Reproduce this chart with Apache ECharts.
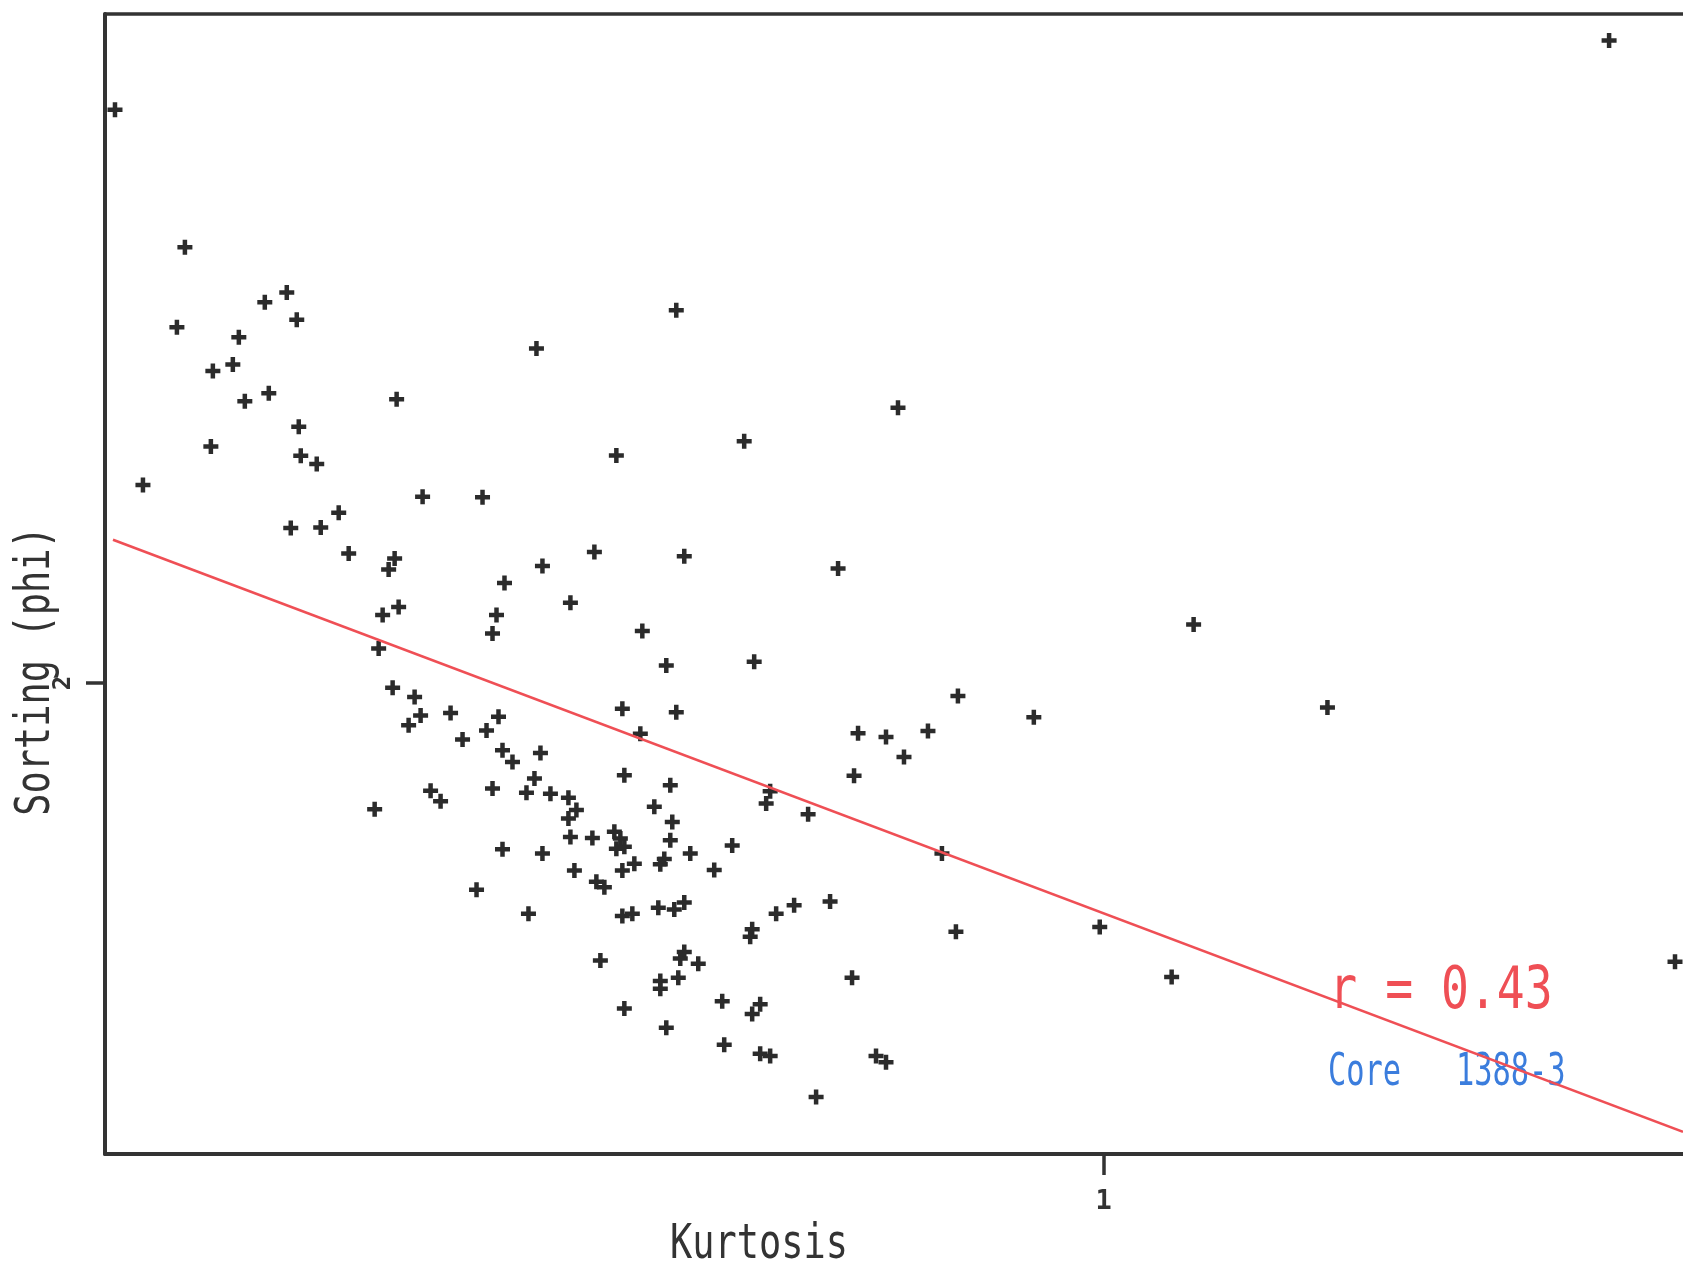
<!DOCTYPE html>
<html lang="en">

<head>
    <meta charset="UTF-8">
    <meta name="viewport" content="width=device-width, initial-scale=1.0">
    <script src="https://cdn.jsdelivr.net/npm/echarts@6.0.0/dist/echarts.min.js"></script>
    <title>Sorting vs Kurtosis</title>
    <style>
        body { margin: 0; background: #fff; }
    </style>
</head>

<body>
    <div id="main" style="width: 1683px;height:1269px;"></div>

    <script>
        // values
        var kurtosis = [
            0.505, 1.253, 0.540, 0.591, 0.580, 0.596, 0.536, 0.567, 0.564, 0.554,
            0.582, 0.570, 0.716, 0.646, 0.597, 0.553, 0.598, 0.606, 0.519, 0.659,
            0.689, 0.617, 0.593, 0.608, 0.622, 0.645, 0.642, 0.700, 0.719, 0.786,
            0.897, 0.820, 0.756, 0.745, 0.790, 0.867, 0.733, 0.769, 0.781, 0.825,
            0.927, 1.045, 0.965, 1.112, 0.877, 0.891, 0.912, 0.900, 0.875, 0.833,
            0.831, 0.852, 0.919, 0.814, 0.805, 0.863, 0.845, 0.836, 0.824, 0.823,
            0.926, 0.998, 1.034, 1.286, 0.874, 0.809, 0.828, 0.824, 0.810, 0.828,
            0.833, 0.886, 0.891, 0.856, 0.797, 0.639, 0.647, 0.696, 0.694, 0.637,
            0.644, 0.655, 0.658, 0.652, 0.673, 0.679, 0.691, 0.697, 0.699, 0.704,
            0.718, 0.759, 0.786, 0.768, 0.715, 0.760, 0.783, 0.663, 0.668, 0.694,
            0.711, 0.723, 0.732, 0.736, 0.732, 0.635, 0.775, 0.784, 0.755, 0.783,
            0.733, 0.744, 0.756, 0.760, 0.793, 0.780, 0.778, 0.765, 0.759, 0.735,
            0.699, 0.719, 0.746, 0.750, 0.686, 0.712, 0.759, 0.764, 0.777, 0.785,
            0.790, 0.748, 0.790, 0.788, 0.787, 0.778, 0.778, 0.760, 0.781, 0.758
        ];
        var sorting = [
            3.217, 3.364, 2.925, 2.829, 2.808, 2.771, 2.755, 2.734, 2.676, 2.662,
            2.615, 2.598, 2.710, 2.602, 2.544, 2.502, 2.482, 2.465, 2.420, 2.395,
            2.394, 2.361, 2.329, 2.330, 2.275, 2.264, 2.241, 2.212, 2.248, 2.791,
            2.584, 2.513, 2.483, 2.278, 2.269, 2.243, 2.170, 2.110, 2.037, 2.045,
            1.972, 2.124, 1.927, 1.948, 1.893, 1.885, 1.898, 1.843, 1.803, 1.770,
            1.744, 1.721, 1.638, 1.655, 1.603, 1.536, 1.528, 1.510, 1.477, 1.461,
            1.472, 1.482, 1.376, 1.408, 1.374, 1.324, 1.318, 1.297, 1.232, 1.213,
            1.208, 1.208, 1.195, 1.121, 1.404, 2.144, 2.161, 2.144, 2.105, 2.073,
            1.990, 1.970, 1.931, 1.910, 1.936, 1.880, 1.899, 1.928, 1.857, 1.832,
            1.851, 1.945, 1.938, 1.892, 1.797, 1.804, 1.783, 1.771, 1.749, 1.776,
            1.767, 1.765, 1.756, 1.730, 1.712, 1.732, 1.737, 1.705, 1.684, 1.666,
            1.673, 1.671, 1.648, 1.652, 1.638, 1.626, 1.615, 1.616, 1.602, 1.602,
            1.647, 1.638, 1.578, 1.566, 1.561, 1.510, 1.505, 1.510, 1.523, 1.519,
            1.534, 1.411, 1.429, 1.415, 1.374, 1.367, 1.351, 1.309, 1.268, 1.670
        ];

        // regression line end points (kurtosis, sorting)
        var fitStart = [0.504, 2.304];
        var fitEnd = [1.290, 1.047];

        var xTicks = [1];
        var yTicks = [2];
        var xRange = [0.5, 1.29];
        var yRange = [1, 3.42];

        var points = [];
        for (var i = 0; i < kurtosis.length; i++) {
            points.push([kurtosis[i], sorting[i]]);
        }

        var plus = 'path://M3.5,0 H6.5 V3.5 H10 V6.5 H6.5 V10 H3.5 V6.5 H0 V3.5 H3.5 Z';
        var ink = '#333333';
        var mono = "'DejaVu Sans Mono', 'Liberation Mono', monospace";

        var myChart = echarts.init(document.getElementById('main'));

        var option = {
            animation: false,
            backgroundColor: '#ffffff',
            grid: {
                left: 105,
                right: 0,
                top: 14,
                bottom: 115
            },
            xAxis: [{
                type: 'value',
                position: 'bottom',
                min: xRange[0],
                max: xRange[1],
                axisLine: { show: true, lineStyle: { color: ink, width: 4 } },
                axisTick: { show: true, customValues: xTicks, length: 21, lineStyle: { color: ink, width: 3.5 } },
                axisLabel: { customValues: xTicks, color: ink, fontSize: 27, fontWeight: 'bold', fontFamily: mono, margin: 34 },
                splitLine: { show: false }
            }, {
                // plain frame line along the top
                type: 'value',
                position: 'top',
                min: xRange[0],
                max: xRange[1],
                axisLine: { show: true, lineStyle: { color: ink, width: 3.5 } },
                axisTick: { show: false },
                axisLabel: { show: false },
                splitLine: { show: false }
            }],
            yAxis: {
                type: 'value',
                min: yRange[0],
                max: yRange[1],
                axisLine: { show: true, lineStyle: { color: ink, width: 4 } },
                axisTick: { show: true, customValues: yTicks, length: 19, lineStyle: { color: ink, width: 3.5 } },
                axisLabel: { customValues: yTicks, rotate: 90, color: ink, fontSize: 24, fontWeight: 'bold', fontFamily: mono, margin: 29 },
                splitLine: { show: false }
            },
            graphic: [{
                type: 'text',
                x: 759,
                y: 1246,
                scaleX: 0.77,
                style: {
                    text: 'Kurtosis',
                    fontSize: 48,
                    fontFamily: mono,
                    fill: ink,
                    align: 'center', textAlign: 'center',
                    verticalAlign: 'middle', textVerticalAlign: 'middle'
                }
            }, {
                type: 'text',
                x: 37,
                y: 671,
                rotation: Math.PI / 2,
                scaleX: 0.77,
                style: {
                    text: 'Sorting (phi)',
                    fontSize: 48,
                    fontFamily: mono,
                    fill: ink,
                    align: 'center', textAlign: 'center',
                    verticalAlign: 'middle', textVerticalAlign: 'middle'
                }
            }, {
                type: 'text',
                x: 1441,
                y: 993,
                scaleX: 0.8,
                style: {
                    text: 'r = 0.43',
                    fontSize: 58,
                    fontFamily: mono,
                    fill: '#ef4f55',
                    align: 'center', textAlign: 'center',
                    verticalAlign: 'middle', textVerticalAlign: 'middle'
                }
            }, {
                type: 'text',
                x: 1328,
                y: 1074,
                scaleX: 0.69,
                style: {
                    text: 'Core   1388-3',
                    fontSize: 44,
                    fontFamily: mono,
                    fill: '#3b7ddd',
                    align: 'left', textAlign: 'left',
                    verticalAlign: 'middle', textVerticalAlign: 'middle'
                }
            }],
            series: [{
                type: 'line',
                data: [fitStart, fitEnd],
                showSymbol: false,
                symbol: 'none',
                lineStyle: { color: '#ef4f55', width: 2.5 },
                z: 5
            }, {
                type: 'scatter',
                data: points,
                symbol: plus,
                symbolSize: 15,
                itemStyle: { color: '#2b2b2b', opacity: 1 },
                z: 4
            }]
        };

        myChart.setOption(option);
    </script>

</body>

</html>
